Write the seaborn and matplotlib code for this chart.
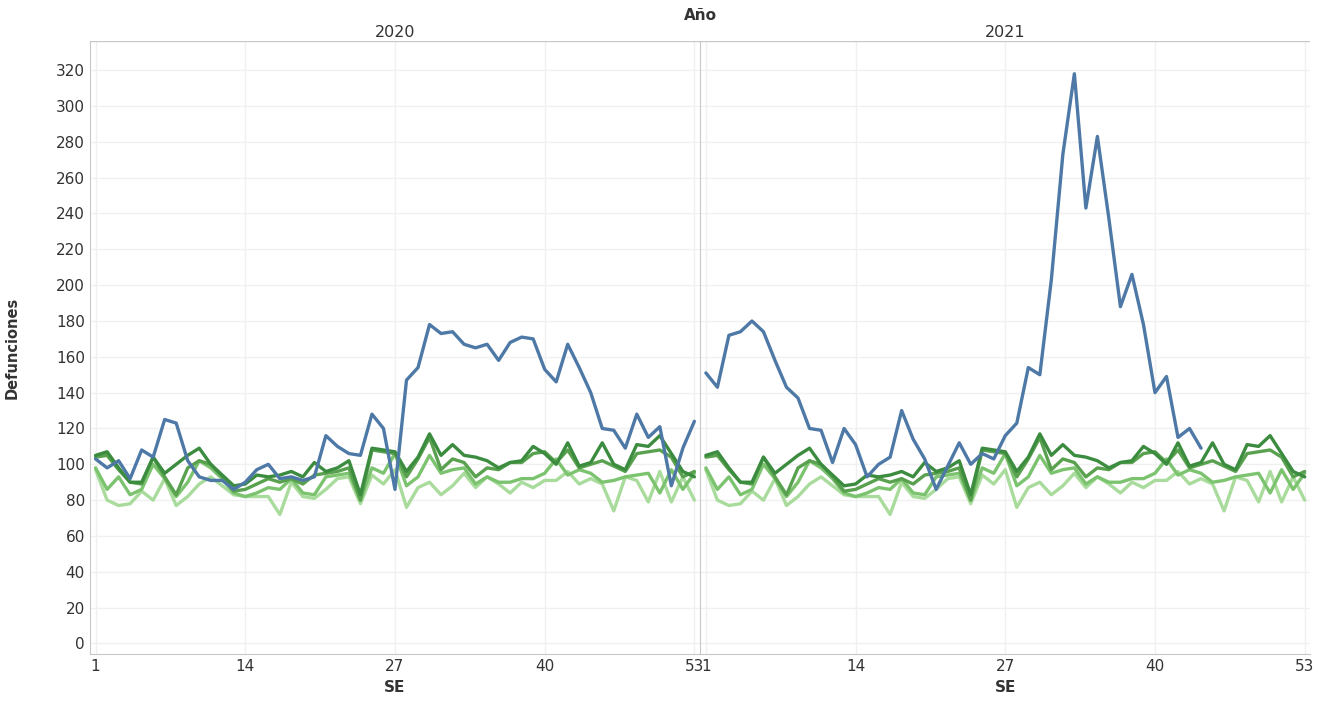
import matplotlib
matplotlib.use("Agg")
import matplotlib.pyplot as plt
import seaborn as sns
import pandas as pd
import numpy as np

weeks = list(range(1, 54))
blue_2020 = [103, 98, 102, 92, 108, 104, 125, 123, 102, 93, 91, 91, 86, 90, 97, 100, 92, 93, 91, 93,
             116, 110, 106, 105, 128, 120, 86, 147, 154, 178, 173, 174, 167, 165, 167, 158, 168, 171, 170, 153,
             146, 167, 154, 140, 120, 119, 109, 128, 115, 121, 88, 109, 124]
blue_2021 = [151, 143, 172, 174, 180, 174, 158, 143, 137, 120, 119, 101, 120, 111, 93, 100, 104, 130, 114,
             103, 86, 99, 112, 100, 106, 103, 116, 123, 154, 150, 203, 273, 318, 243, 283, 237, 188, 206, 178,
             140, 149, 115, 120, 109]
green_1 = [105, 107, 98, 90, 90, 104, 95, 100, 105, 109, 100, 94, 88, 89, 94, 93, 94, 96, 93, 101,
           96, 98, 102, 83, 109, 108, 107, 96, 104, 117, 105, 111, 105, 104, 102, 98, 101, 102, 110, 106,
           100, 112, 99, 101, 112, 100, 97, 111, 110, 116, 106, 96, 93]
green_2 = [104, 105, 97, 90, 89, 104, 93, 83, 98, 102, 100, 93, 85, 86, 89, 92, 90, 92, 89, 94,
           95, 96, 98, 80, 108, 107, 106, 93, 103, 115, 97, 103, 101, 93, 98, 97, 101, 101, 106, 107,
           101, 108, 98, 100, 102, 99, 96, 106, 107, 108, 104, 93, 96]
green_3 = [98, 86, 93, 83, 86, 100, 92, 82, 90, 102, 98, 92, 84, 82, 84, 87, 86, 92, 84, 83,
           93, 94, 95, 80, 98, 95, 106, 88, 93, 105, 95, 97, 98, 89, 93, 90, 90, 92, 92, 95,
           103, 94, 97, 95, 90, 91, 93, 94, 95, 84, 97, 86, 95]
green_4 = [97, 80, 77, 78, 85, 80, 92, 77, 82, 89, 93, 88, 83, 82, 82, 82, 72, 90, 82, 81,
           86, 92, 93, 78, 94, 89, 97, 76, 87, 90, 83, 88, 95, 87, 93, 89, 84, 90, 87, 91,
           91, 96, 89, 92, 89, 74, 93, 91, 79, 96, 79, 93, 80]
years = ["2020", "2021"]
xticks = [1, 14, 27, 40, 53]
yticks = list(range(0, 321, 20))

colors = {"g4": "#a9dc9c", "g3": "#7cc36f", "g2": "#59a14f", "g1": "#3c8c40", "blue": "#4e79a7"}
greens = {"g1": green_1, "g2": green_2, "g3": green_3, "g4": green_4}

sns.set_style("white")
plt.rcParams["font.family"] = ["DejaVu Sans"]
fig, axes = plt.subplots(1, 2, figsize=(13.21, 7.15), dpi=100, sharey=True)
fig.subplots_adjust(left=0.068, right=0.992, top=0.942, bottom=0.085, wspace=0)

for ax, yr, bl in zip(axes, years, [blue_2020, blue_2021]):
    rows = []
    for k in ["g4", "g3", "g2", "g1"]:
        for w, v in zip(weeks, greens[k]):
            rows.append((w, v, k))
    for w, v in zip(weeks, bl):
        rows.append((w, v, "blue"))
    df = pd.DataFrame(rows, columns=["SE", "val", "s"])
    sns.lineplot(data=df, x="SE", y="val", hue="s", palette=colors, ax=ax, legend=False,
                 linewidth=2.4, sort=False)
    ax.set_xlim(0.5, 53.5)
    ax.set_ylim(-6, 336)
    ax.set_xticks(xticks)
    ax.set_yticks(yticks)
    ax.grid(True, color="#f0f0f0", linewidth=1)
    ax.set_xlabel("SE", fontsize=11, fontweight="bold", color="#333333")
    ax.set_ylabel("")
    ax.tick_params(axis="both", labelsize=11, colors="#333333", length=0)
    for s in ["top", "right"]:
        ax.spines[s].set_visible(False)
    ax.spines["left"].set_color("#c8c8c8")
    ax.spines["bottom"].set_color("#c8c8c8")
    ax.set_title(yr, fontsize=11.5, color="#333333", pad=3)
    ax.axhline(336, color="#c8c8c8", linewidth=1)

axes[1].tick_params(axis="y", left=False)
axes[0].set_ylabel("Defunciones", fontsize=10.5, fontweight="bold", color="#333333", labelpad=26)
fig.text(0.53, 0.978, "Año", ha="center", va="center", fontsize=11, fontweight="bold", color="#333333")
fig.savefig("out.png", dpi=100)
